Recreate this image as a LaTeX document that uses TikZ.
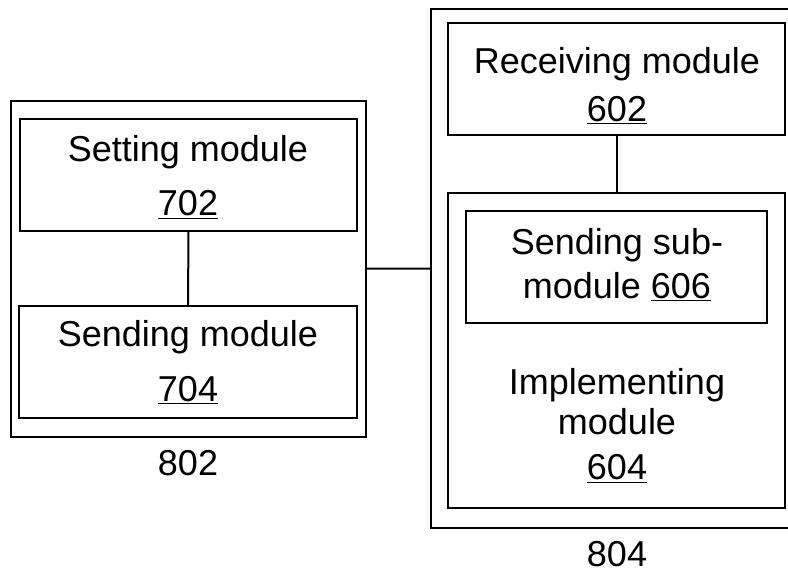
\documentclass[tikz,border=0pt]{standalone}
\usepackage{fontspec}
\setmainfont{Liberation Sans}
\begin{document}
\begin{tikzpicture}[x=1pt,y=-1pt,
  box/.style={draw=black,line width=2pt,rectangle,inner sep=0pt},
  conn/.style={draw=black,line width=2pt},
  lbl/.style={anchor=base,inner sep=0pt,font=\fontsize{36}{43}\selectfont}]
\useasboundingbox (0,0) rectangle (788,577);
\clip (0,0) rectangle (788,577);
% outer boxes
\node[box,minimum width=355pt,minimum height=336pt] (out802) at (188.5,268.6) {};
\node[box,minimum width=359pt,minimum height=518.5pt] (out804) at (610.5,268.75) {};
% inner boxes
\node[box,minimum width=337pt,minimum height=112pt] (set702) at (188.5,175) {};
\node[box,minimum width=338pt,minimum height=112pt] (snd704) at (188,362) {};
\node[box,minimum width=337pt,minimum height=112pt] (rcv602) at (616.5,79) {};
\node[box,minimum width=337pt,minimum height=315pt] (imp604) at (616.5,350.3) {};
\node[box,minimum width=301pt,minimum height=112pt] (sub606) at (616.5,266.7) {};
% texts
\node[lbl] (t1) at (188,162) {Setting module};
\node[lbl] (t2) at (188,216) {\underline{702}};
\node[lbl] (t3) at (188,346.5) {Sending module};
\node[lbl] (t4) at (188,401.5) {\underline{704}};
\node[lbl] (t5) at (188,476) {802};
\node[lbl] (t6) at (617,74) {Receiving module};
\node[lbl] (t7) at (617,121.5) {\underline{602}};
\node[lbl] (t8) at (617,255) {Sending sub-};
\node[lbl] (t9) at (617,298.3) {module \underline{606}};
\node[lbl] (t10) at (617,395) {Implementing};
\node[lbl] (t11) at (617,435) {module};
\node[lbl] (t12) at (617,480) {\underline{604}};
\node[lbl] (t13) at (617,566.5) {804};
% connectors
\draw[conn] (set702.south) -- (snd704.north);
\draw[conn] (rcv602.south) -- (imp604.north);
\draw[conn] (out802.east) -- (out804.west);
\end{tikzpicture}
\end{document}
